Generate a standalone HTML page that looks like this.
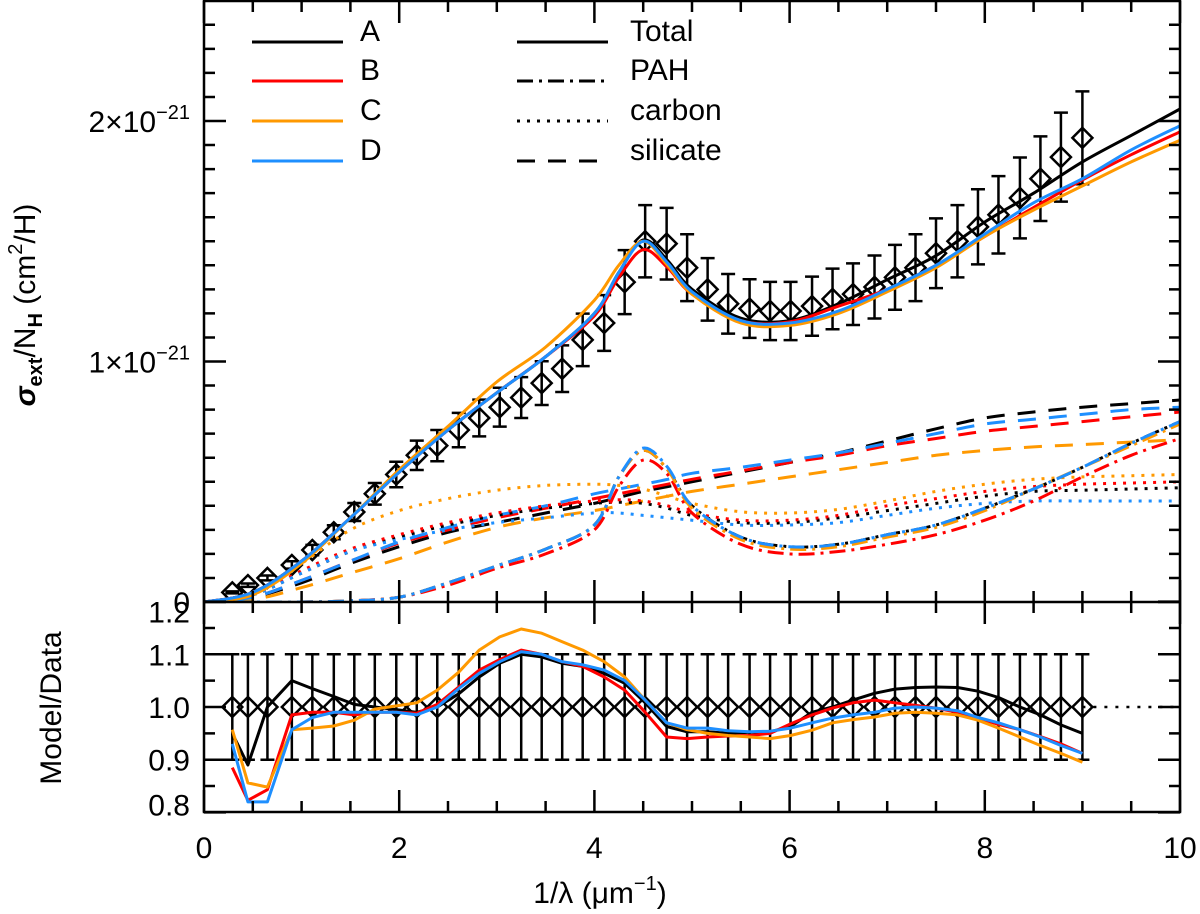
<!DOCTYPE html>
<html><head><meta charset="utf-8"><style>
html,body{margin:0;padding:0;background:#fff;}
svg{display:block;font-family:"Liberation Sans",sans-serif;}
</style></head><body>
<svg id="chart" width="1200" height="914" viewBox="0 0 1200 914" xmlns="http://www.w3.org/2000/svg">
<g id="marks"></g>
<g id="axes"></g>
<g id="labels"></g>
</svg>
<script>
// ---- data (cross sections in units of 1e-21 cm^2/H) ----
const dataX = [0.29,0.45,0.65,0.90,1.11,1.33,1.54,1.75,1.97,2.18,2.39,2.61,2.82,3.03,3.25,3.46,3.67,3.88,4.10,4.31,4.52,4.74,4.95,5.16,5.37,5.59,5.80,6.01,6.23,6.44,6.65,6.87,7.08,7.29,7.50,7.72,7.93,8.14,8.36,8.57,8.78,9.00];
const dataY = [0.04,0.07,0.10,0.154,0.216,0.29,0.374,0.45,0.53,0.61,0.65,0.715,0.765,0.81,0.85,0.91,0.97,1.09,1.16,1.33,1.50,1.49,1.39,1.30,1.24,1.22,1.21,1.21,1.23,1.26,1.28,1.31,1.35,1.39,1.45,1.50,1.56,1.61,1.68,1.76,1.85,1.93];
const dataErrFrac = 0.1;
const modelX = [0,0.5,1,1.5,2,2.5,3,3.5,4,4.25,4.5,4.75,5,5.5,6,6.5,7,7.5,8,8.5,9,9.5,10];
const totalA = [0,0.04,0.17,0.35,0.54,0.715,0.87,1.02,1.20,1.37,1.505,1.42,1.30,1.18,1.17,1.24,1.34,1.44,1.58,1.70,1.83,1.94,2.05];
const totalB = [0,0.04,0.17,0.35,0.54,0.715,0.87,1.02,1.19,1.35,1.465,1.39,1.28,1.17,1.165,1.23,1.30,1.40,1.52,1.64,1.755,1.86,1.955];
const totalC = [0,0.03,0.16,0.35,0.55,0.73,0.915,1.06,1.255,1.40,1.50,1.40,1.28,1.16,1.15,1.20,1.29,1.39,1.52,1.63,1.73,1.83,1.92];
const totalD = [0,0.04,0.17,0.35,0.54,0.715,0.87,1.02,1.20,1.37,1.50,1.41,1.29,1.17,1.16,1.21,1.30,1.40,1.53,1.66,1.76,1.88,1.98];
const pahA = [0,0,0,0.005,0.02,0.08,0.15,0.22,0.32,0.52,0.63,0.55,0.40,0.27,0.23,0.24,0.28,0.32,0.39,0.47,0.56,0.66,0.75];
const pahB = [0,0,0,0.005,0.02,0.07,0.14,0.20,0.30,0.48,0.59,0.53,0.37,0.24,0.20,0.21,0.24,0.28,0.34,0.42,0.52,0.61,0.68];
const pahC = [0,0,0,0.005,0.02,0.08,0.15,0.22,0.32,0.52,0.63,0.55,0.39,0.26,0.22,0.23,0.27,0.31,0.38,0.47,0.56,0.65,0.74];
const pahD = [0,0,0,0.005,0.02,0.08,0.15,0.22,0.32,0.52,0.64,0.56,0.40,0.27,0.23,0.24,0.28,0.32,0.39,0.47,0.56,0.66,0.75];
const carbA = [0,0.03,0.12,0.21,0.27,0.32,0.36,0.39,0.41,0.415,0.41,0.39,0.36,0.33,0.33,0.35,0.38,0.41,0.44,0.46,0.465,0.47,0.475];
const carbB = [0,0.03,0.13,0.22,0.28,0.33,0.37,0.40,0.42,0.425,0.42,0.40,0.37,0.34,0.34,0.36,0.40,0.43,0.46,0.48,0.49,0.495,0.50];
const carbC = [0,0.03,0.16,0.30,0.38,0.43,0.465,0.485,0.49,0.485,0.47,0.44,0.41,0.375,0.37,0.385,0.42,0.46,0.49,0.51,0.52,0.525,0.53];
const carbD = [0,0.03,0.12,0.21,0.26,0.30,0.33,0.35,0.37,0.37,0.36,0.35,0.34,0.32,0.32,0.33,0.36,0.39,0.41,0.42,0.42,0.42,0.42];
const silA = [0,0.02,0.08,0.16,0.23,0.29,0.33,0.37,0.41,0.435,0.46,0.48,0.50,0.54,0.58,0.62,0.67,0.72,0.765,0.79,0.81,0.825,0.84];
const silB = [0,0.02,0.09,0.17,0.245,0.30,0.35,0.39,0.43,0.45,0.47,0.49,0.51,0.545,0.58,0.61,0.65,0.68,0.71,0.73,0.75,0.77,0.79];
const silC = [0,0.01,0.06,0.12,0.18,0.25,0.31,0.35,0.38,0.40,0.42,0.44,0.46,0.49,0.52,0.55,0.58,0.61,0.63,0.645,0.655,0.665,0.675];
const silD = [0,0.02,0.09,0.17,0.25,0.31,0.36,0.40,0.45,0.47,0.49,0.51,0.535,0.56,0.59,0.62,0.66,0.70,0.74,0.76,0.78,0.80,0.81];
const ratioA = [0.95,0.89,1.00,1.05,1.035,1.02,1.005,1.0,0.995,0.99,1.0,1.025,1.057,1.083,1.10,1.095,1.083,1.077,1.064,1.045,1.008,0.963,0.953,0.953,0.95,0.952,0.953,0.963,0.99,1.0,1.013,1.026,1.034,1.037,1.038,1.037,1.03,1.018,1.0,0.985,0.966,0.95];
const ratioB = [0.885,0.823,0.843,0.985,0.99,0.99,0.985,0.99,0.99,0.988,1.005,1.038,1.07,1.09,1.108,1.10,1.086,1.077,1.057,1.032,0.99,0.943,0.94,0.943,0.945,0.946,0.95,0.968,0.985,0.998,1.008,1.013,1.008,1.003,0.998,0.99,0.979,0.967,0.957,0.944,0.93,0.912];
const ratioC = [0.957,0.856,0.848,0.957,0.96,0.964,0.975,0.996,1.002,1.008,1.032,1.066,1.108,1.133,1.148,1.14,1.124,1.108,1.086,1.057,1.013,0.97,0.957,0.95,0.946,0.943,0.94,0.946,0.956,0.97,0.976,0.981,0.988,0.99,0.988,0.985,0.975,0.96,0.943,0.927,0.912,0.895];
const ratioD = [0.93,0.82,0.82,0.957,0.98,0.99,0.99,0.99,0.99,0.985,1.0,1.035,1.064,1.086,1.105,1.10,1.086,1.08,1.07,1.05,1.013,0.97,0.96,0.96,0.955,0.953,0.954,0.96,0.97,0.979,0.985,0.99,0.998,1.0,0.998,0.993,0.98,0.97,0.957,0.943,0.927,0.912];
const xTicks = [0,2,4,6,8,10];
const xTickLabels = ["0","2","4","6","8","10"];
const yTopTicks = [0,1,2];
const yTopTickLabels = ["0","1","2"];
const yBotTicks = [0.8,0.9,1.0,1.1,1.2];
const yBotTickLabels = ["0.8","0.9","1.0","1.1","1.2"];

// ---- scales ----
const PX0=204, PX1=1180, TOP0=602, TOPSCALE=240.5, BTOP=602, BBOT=812;
function sx(v){return PX0+v*(PX1-PX0)/10;}
function syT(v){return TOP0-v*TOPSCALE;}
function syB(r){return 707-(r-1)*527;}
const NS="http://www.w3.org/2000/svg";
function mk(tag,attrs,parent){const e=document.createElementNS(NS,tag);for(const k in attrs)e.setAttribute(k,attrs[k]);parent.appendChild(e);return e;}
const marks=document.getElementById('marks'),axes=document.getElementById('axes'),labels=document.getElementById('labels');

// clip
const defs=mk('defs',{},marks);
const cp1=mk('clipPath',{id:'clipTop'},defs);mk('rect',{x:PX0,y:1,width:PX1-PX0,height:TOP0-1},cp1);
const cp2=mk('clipPath',{id:'clipBot'},defs);mk('rect',{x:PX0,y:BTOP,width:PX1-PX0,height:BBOT-BTOP},cp2);

function smoothPath(xv,yv,fy){
  const p=xv.map((x,i)=>[sx(x),fy(yv[i])]);
  let d='M'+p[0][0].toFixed(1)+','+p[0][1].toFixed(1);
  for(let i=0;i<p.length-1;i++){
    const p0=p[Math.max(0,i-1)],p1=p[i],p2=p[i+1],p3=p[Math.min(p.length-1,i+2)];
    const c1=[p1[0]+(p2[0]-p0[0])/6,p1[1]+(p2[1]-p0[1])/6];
    const c2=[p2[0]-(p3[0]-p1[0])/6,p2[1]-(p3[1]-p1[1])/6];
    d+=' C'+c1[0].toFixed(1)+','+c1[1].toFixed(1)+' '+c2[0].toFixed(1)+','+c2[1].toFixed(1)+' '+p2[0].toFixed(1)+','+p2[1].toFixed(1);
  }
  return d;
}
function linePath(xv,yv,fy){return xv.map((x,i)=>(i?'L':'M')+sx(x).toFixed(1)+','+fy(yv[i]).toFixed(1)).join(' ');}

const colors={A:'#000000',B:'#ff0000',C:'#ff9900',D:'#1e8fff'};
const dashes={total:'',pah:'16,6,3,6',carb:'3,7',sil:'18,13'};
const topG=mk('g',{'clip-path':'url(#clipTop)'},marks);
const botG=mk('g',{'clip-path':'url(#clipBot)'},marks);

// data points top
for(let i=0;i<dataX.length;i++){
  const cx=sx(dataX[i]),cy=syT(dataY[i]),e=dataY[i]*dataErrFrac;
  const g=mk('g',{},topG);
  
  
  const y1=syT(dataY[i]+e),y2=syT(dataY[i]-e);
  mk('path',{d:`M${cx},${y1} V${y2} M${cx-7},${y1} H${cx+7} M${cx-7},${y2} H${cx+7}`,stroke:'#000','stroke-width':2.5,fill:'none'},g);
  mk('path',{d:`M${cx},${cy-10} L${cx+10},${cy} L${cx},${cy+10} L${cx-10},${cy} Z`,stroke:'#000','stroke-width':2.5,fill:'none'},g);
}
const groups=[['sil',{A:silA,B:silB,C:silC,D:silD}],['carb',{A:carbA,B:carbB,C:carbC,D:carbD}],['pah',{A:pahA,B:pahB,C:pahC,D:pahD}],['total',{A:totalA,B:totalB,C:totalC,D:totalD}]];
for(const [kind,set] of groups){
  for(const k of ['A','B','C','D']){
    const p=mk('path',{d:smoothPath(modelX,set[k],syT),stroke:colors[k],'stroke-width':3,fill:'none','stroke-dasharray':dashes[kind]},topG);
    
    
  }
}
// bottom panel
for(let i=0;i<dataX.length;i++){
  const cx=sx(dataX[i]),cy=syB(1);
  const g=mk('g',{},botG);
  
  
  const y1=syB(1+dataErrFrac),y2=syB(1-dataErrFrac);
  mk('path',{d:`M${cx},${y1} V${y2} M${cx-7},${y1} H${cx+7} M${cx-7},${y2} H${cx+7}`,stroke:'#000','stroke-width':2.5,fill:'none'},g);
  mk('path',{d:`M${cx},${cy-10} L${cx+10},${cy} L${cx},${cy+10} L${cx-10},${cy} Z`,stroke:'#000','stroke-width':2.5,fill:'none'},g);
}
const unity=mk('path',{d:`M${sx(dataX[dataX.length-1])},${syB(1)} H${sx(10)}`,stroke:'#000','stroke-width':2.5,'stroke-dasharray':'3,8'},botG);


const ratios={A:ratioA,B:ratioB,C:ratioC,D:ratioD};
for(const k of ['A','B','C','D']){
  const p=mk('path',{d:linePath(dataX,ratios[k],syB),stroke:colors[k],'stroke-width':3,fill:'none','stroke-linejoin':'round'},botG);
  
  
}

// axes frames
const ax=(d,name)=>{const p=mk('path',{d:d,stroke:'#000','stroke-width':2.5,fill:'none'},axes);return p;};
ax(`M${PX0},1 H${PX1} V${BBOT} H${PX0} Z M${PX0},${TOP0} H${PX1}`,'axes-frame');
let td='';
for(let v=0;v<=10.001;v+=0.5){
  const x=sx(v),maj=Math.abs(v%2)<0.01;const L=maj?22:11;
  td+=`M${x},1 v${L} M${x},${TOP0} v${-L} M${x},${BTOP} v${L} M${x},${BBOT} v${-L} `;
}
for(let v=0;v<=2.5001;v+=0.1){
  const y=syT(v),maj=Math.abs(v-Math.round(v))<0.01;const L=maj?22:11;
  td+=`M${PX0},${y} h${L} M${PX1},${y} h${-L} `;
}
for(let r=0.8;r<=1.2001;r+=0.05){
  const y=syB(r),maj=Math.abs(r*10-Math.round(r*10))<0.01;const L=maj?22:11;
  td+=`M${PX0},${y} h${L} M${PX1},${y} h${-L} `;
}
ax(td,'axis-ticks');

function txt(s,attrs,name){const t=mk('text',Object.assign({'font-size':30,fill:'#000'},attrs),labels);t.textContent=s;return t;}
xTicks.forEach((v,i)=>txt(xTickLabels[i],{x:sx(v),y:858,'text-anchor':'middle'},'x-tick-label'));
yTopTicks.forEach((v,i)=>{
  const y=syT(v)+11;
  if(v===0){txt(yTopTickLabels[i],{x:190,y:y,'text-anchor':'end'},'y-tick-label');return;}
  const t=txt('',{x:190,y:y,'text-anchor':'end'},'y-tick-label');
  const a=mk('tspan',{},t);a.textContent=yTopTickLabels[i]+'×10';
  const b=mk('tspan',{'font-size':20,dy:-13},t);b.textContent='−21';
});
yBotTicks.forEach((v,i)=>{let y=syB(v)+11;if(i===0)y-=8;if(i===yBotTicks.length-1)y+=10;txt(yBotTickLabels[i],{x:190,y:y,'text-anchor':'end'},'y-tick-label-ratio');});

// axis titles
const xt=txt('',{x:600,y:903,'text-anchor':'middle'},'x-axis-title');
{const a=mk('tspan',{},xt);a.textContent='1/λ (μm';const b=mk('tspan',{'font-size':20,dy:-13},xt);b.textContent='−1';const c=mk('tspan',{dy:13},xt);c.textContent=')';}
const yt=txt('',{x:0,y:0,'text-anchor':'middle',transform:'translate(35,305) rotate(-90)'},'y-axis-title');
{const a=mk('tspan',{'font-weight':'bold','font-style':'italic'},yt);a.textContent='σ';
 const b=mk('tspan',{'font-size':20,dy:7,'font-weight':'bold'},yt);b.textContent='ext';
 const c=mk('tspan',{dy:-7},yt);c.textContent='/N';
 const d=mk('tspan',{'font-size':20,dy:7,'font-weight':'bold'},yt);d.textContent='H';
 const e=mk('tspan',{dy:-7},yt);e.textContent=' (cm';
 const f=mk('tspan',{'font-size':20,dy:-13},yt);f.textContent='2';
 const g=mk('tspan',{dy:13},yt);g.textContent='/H)';}
txt('Model/Data',{x:0,y:0,'text-anchor':'middle',transform:'translate(61,708) rotate(-90)'},'ratio-axis-title');

// legend
const legRows=[['A',colors.A,'Total',''],['B',colors.B,'PAH',dashes.pah],['C',colors.C,'carbon',dashes.carb],['D',colors.D,'silicate',dashes.sil]];
const legY=[42,81,121,161];
legRows.forEach((r,i)=>{
  const g=mk('g',{},labels);
  
  
  mk('path',{d:`M252,${legY[i]} H343`,stroke:r[1],'stroke-width':3},g);
  const t=mk('text',{x:360,y:legY[i]-1,'font-size':30},g);t.textContent=r[0];
  const g2=mk('g',{},labels);
  
  
  mk('path',{d:`M517,${legY[i]} H608`,stroke:'#000','stroke-width':3,'stroke-dasharray':r[3]},g2);
  const t2=mk('text',{x:630,y:legY[i]-1,'font-size':30},g2);t2.textContent=r[2];
});
</script>
</body></html>
